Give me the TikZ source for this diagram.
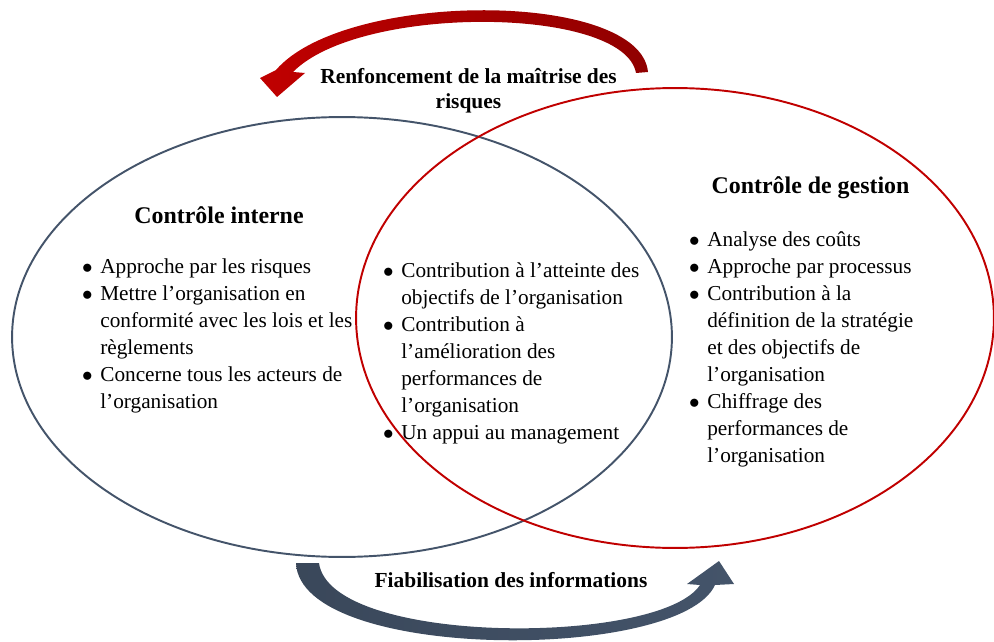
\documentclass[tikz,border=0pt]{standalone}
\usepackage{fontspec}
\setmainfont{Liberation Serif}
\usepackage{xcolor}
\definecolor{ardoise}{HTML}{44546A}
\definecolor{carmin}{HTML}{C00000}
\newcommand{\puce}{\makebox[10.4pt][l]{$\bullet$}}

\begin{document}
\begin{tikzpicture}[x=0.02cm,y=-0.02cm,
titre/.style={font=\fontsize{13.6}{16}\selectfont\bfseries},
liste/.style={font=\fontsize{12.1}{15.4}\selectfont,anchor=north west,inner sep=0pt},
lien/.style={font=\fontsize{12.2}{14.2}\selectfont\bfseries,align=center,inner sep=0pt}]
\useasboundingbox (0,0) rectangle (994,642);

\shade [left color=carmin, right color=carmin!75!black] (648,72) .. controls (640,-10) and (345,-10) .. (276,70)
-- (260,78) -- (277,97) -- (305,73) -- (293,72) .. controls (360,4) and (624,6) .. (636,73) -- cycle;
\shade [left color=ardoise!85!black, right color=ardoise] (296,563) .. controls (300,662) and (680,662) .. (715,585)
-- (734,584) -- (719,561) -- (687,584) -- (700,585) .. controls (660,646) and (330,646) .. (319,563) -- cycle;

\draw [ardoise,line width=1.1pt] (342,337) ellipse [x radius=6.6cm, y radius=4.4cm];
\draw [carmin,line width=1.1pt] (675,318) ellipse [x radius=6.38cm, y radius=4.6cm];

\node (renfo) [lien] at (468.5,91) {Renfoncement de la maîtrise des\\risques};
\node (fiab) [lien] at (511,580) {Fiabilisation des informations};

\node (ci) [titre] at (219,215) {Contrôle interne};
\node (cg) [titre] at (810.5,188) {Contrôle de gestion};

\node (listeci) [liste] at (81.7,254) {\begin{tabular}{@{}l@{}l@{}}
\puce & Approche par les risques\\
\puce & Mettre l’organisation en\\
 & conformité avec les lois et les\\
 & règlements\\
\puce & Concerne tous les acteurs de\\
 & l’organisation
\end{tabular}};

\node (listecommun) [liste] at (382.7,258) {\begin{tabular}{@{}l@{}l@{}}
\puce & Contribution à l’atteinte des\\
 & objectifs de l’organisation\\
\puce & Contribution à\\
 & l’amélioration des\\
 & performances de\\
 & l’organisation\\
\puce & Un appui au management
\end{tabular}};

\node (listecg) [liste] at (688.7,227) {\begin{tabular}{@{}l@{}l@{}}
\puce & Analyse des coûts\\
\puce & Approche par processus\\
\puce & Contribution à la\\
 & définition de la stratégie\\
 & et des objectifs de\\
 & l’organisation\\
\puce & Chiffrage des\\
 & performances de\\
 & l’organisation
\end{tabular}};
\end{tikzpicture}
\end{document}
